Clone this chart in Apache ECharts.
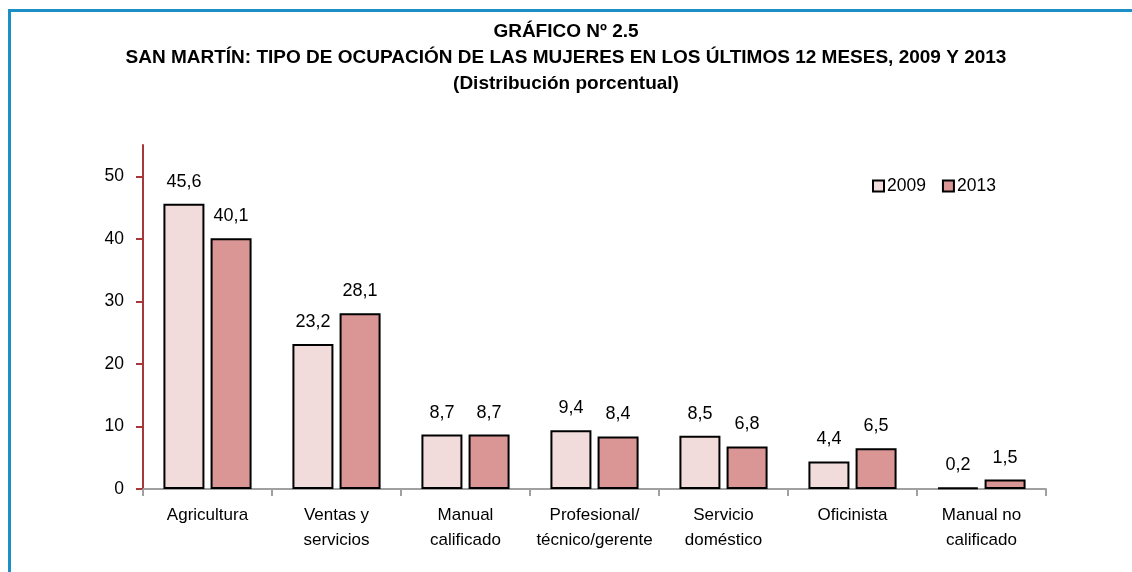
<!DOCTYPE html>
<html>
<head>
<meta charset="utf-8">
<script src="https://cdn.jsdelivr.net/npm/echarts@6/dist/echarts.min.js"></script>
<style>
  html, body { margin: 0; padding: 0; background: #fff; }
  #frame { position: absolute; left: 8px; top: 9px; width: 1140px; height: 600px;
           border-left: 3px solid #1b8fc6; border-top: 3px solid #1b8fc6; }
  #chart { position: absolute; left: 0; top: 0; width: 1132px; height: 572px; }
</style>
</head>
<body>
<div id="frame"></div>
<div id="chart"></div>
<script>
  const categories = ["Agricultura", "Ventas y\nservicios", "Manual\ncalificado", "Profesional/\ntécnico/gerente", "Servicio\ndoméstico", "Oficinista", "Manual no\ncalificado"];
  const values2009 = [45.6, 23.2, 8.7, 9.4, 8.5, 4.4, 0.2];
  const values2013 = [40.1, 28.1, 8.7, 8.4, 6.8, 6.5, 1.5];
  const yTicks = [0, 10, 20, 30, 40, 50];

  const font = "'Liberation Sans', Arial, sans-serif";
  const fmt = v => v.toFixed(1).replace(".", ",");

  const chart = echarts.init(document.getElementById("chart"));

  function barSeries(name, data, color) {
    return {
      name: name,
      type: "bar",
      data: data,
      barWidth: 41,
      barGap: "15%",
      itemStyle: { color: color, borderColor: "#000", borderWidth: 2 },
      label: {
        show: true,
        position: "top",
        distance: 13,
        formatter: p => fmt(p.value),
        fontFamily: font,
        fontSize: 18,
        color: "#000"
      }
    };
  }

  chart.setOption({
    animation: false,
    textStyle: { fontFamily: font },
    title: {
      text: "GRÁFICO Nº 2.5\nSAN MARTÍN: TIPO DE OCUPACIÓN DE LAS MUJERES EN LOS ÚLTIMOS 12 MESES, 2009 Y 2013\n(Distribución porcentual)",
      left: 566,
      top: 19,
      textAlign: "center",
      padding: 0,
      textStyle: { fontFamily: font, fontSize: 19, fontWeight: "bold", color: "#000", lineHeight: 26, align: "center" }
    },
    legend: {
      top: 172,
      left: 867,
      itemWidth: 11,
      itemHeight: 11,
      itemGap: 16,
      icon: "rect",
      textStyle: { fontFamily: font, fontSize: 17.5, color: "#000", padding: [0, 0, 0, -2] },
      itemStyle: { borderColor: "#000", borderWidth: 2 }
    },
    grid: { left: 143, right: 86, top: 145, bottom: 83 },
    xAxis: {
      type: "category",
      data: categories,
      axisLine: { lineStyle: { color: "#a0a0a0", width: 2 } },
      axisTick: { show: true, length: 7, lineStyle: { color: "#a0a0a0", width: 2 } },
      axisLabel: { fontFamily: font, fontSize: 17, color: "#000", lineHeight: 25, margin: 14, interval: 0 }
    },
    yAxis: {
      type: "value",
      min: 0,
      max: 55,
      interval: 10,
      splitLine: { show: false },
      axisLine: { show: true, lineStyle: { color: "#a8373a", width: 2 } },
      axisTick: { show: true, inside: false, length: 7, customValues: yTicks, lineStyle: { color: "#a8373a", width: 2 } },
      axisLabel: { fontFamily: font, fontSize: 17.5, color: "#000", margin: 19, customValues: yTicks }
    },
    series: [
      barSeries("2009", values2009, "#f2dcdb"),
      barSeries("2013", values2013, "#d99694")
    ]
  });
</script>
</body>
</html>
